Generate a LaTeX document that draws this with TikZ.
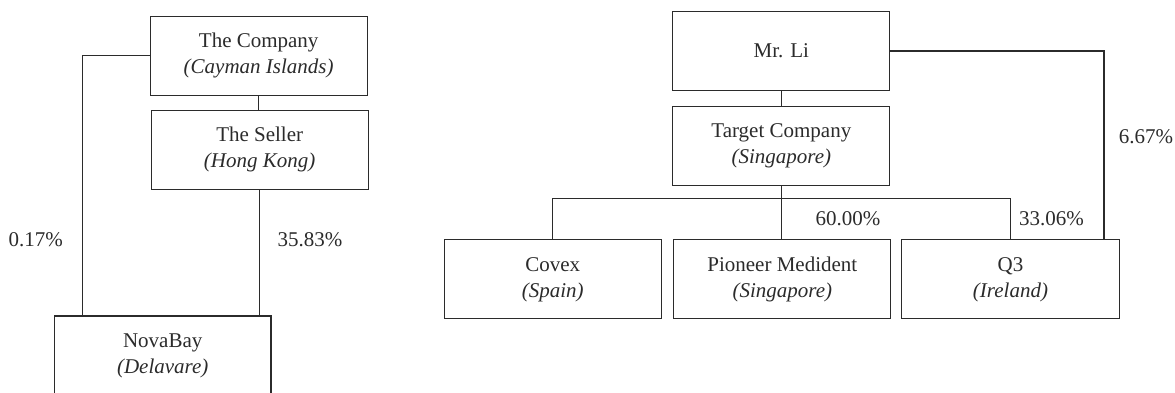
\documentclass[tikz,border=0pt]{standalone}
\usepackage{fontspec}
\setmainfont{Liberation Serif}
\usetikzlibrary{calc}
\definecolor{ink}{HTML}{2B2B2B}
\tikzset{
  ent/.style={draw=ink, line width=0.55pt, text=ink, minimum width=108.6pt, minimum height=39.5pt,
    inner sep=0pt, align=center, font=\fontsize{10.5pt}{13pt}\selectfont},
  pct/.style={text=ink, inner sep=0pt, font=\fontsize{10.5pt}{13pt}\selectfont},
  link/.style={draw=ink, line width=0.55pt}
}
\begin{document}
\begin{tikzpicture}[x=0.5pt,y=-0.5pt]
\useasboundingbox (0,0) rectangle (1175,392);
\begin{scope}
\clip (0,0) rectangle (1175,392);
% left group
\node[ent] (comp) at (258.7,55.7) {The Company\\\textit{(Cayman Islands)}};
\node[ent] (seller) at (259.7,149.7) {The Seller\\\textit{(Hong Kong)}};
\node[ent, minimum width=108.3pt] (nova) at (162.7,355.5) {NovaBay\\\textit{(Delavare)}};
\draw[link] (comp.south) -- (comp.south |- seller.north);
\draw[link] (comp.west) -| ([xshift=14.5pt]nova.north west);
\draw[link] (seller.south) -- (seller.south |- nova.north);
\node[pct] (p1) at (35.8,240) {0.17\%};
\node[pct] (p2) at (310,240) {35.83\%};
% right group
\node[ent] (li) at (781.3,51) {Mr. Li};
\node[ent] (target) at (781.3,146) {Target Company\\\textit{(Singapore)}};
\node[ent] (covex) at (552.8,279.3) {Covex\\\textit{(Spain)}};
\node[ent] (pioneer) at (782.3,279.3) {Pioneer Medident\\\textit{(Singapore)}};
\node[ent] (q3) at (1010.5,279.3) {Q3\\\textit{(Ireland)}};
\draw[link] (li.south) -- (li.south |- target.north);
\draw[link] (target.south) -- (target.south |- pioneer.north);
\draw[link] (covex.north) |- ([yshift=-6pt]target.south) -| (q3.north);
\draw[link] (li.east) -| ([xshift=-7.85pt]q3.north east);
\node[pct] (p3) at (1146,136.7) {6.67\%};
\node[pct] (p4) at (848,218.3) {60.00\%};
\node[pct] (p5) at (1051.5,218.3) {33.06\%};
\end{scope}
\end{tikzpicture}
\end{document}
